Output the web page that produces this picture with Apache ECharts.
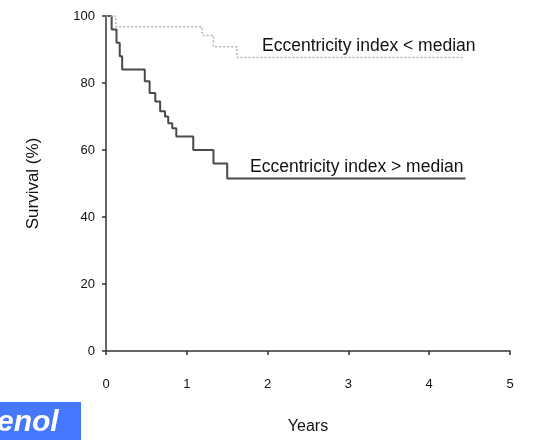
<!DOCTYPE html>
<html>
<head>
<meta charset="utf-8">
<script src="https://cdn.jsdelivr.net/npm/echarts@6/dist/echarts.min.js"></script>
<style>
  html, body { margin: 0; padding: 0; background: #fff; }
  #chart { width: 535px; height: 440px; }
</style>
</head>
<body>
<div id="chart"></div>
<script>
// Kaplan-Meier steps (years, survival %)
const lowTimes = [0, 0.07, 0.13, 0.17, 0.2, 0.48, 0.54, 0.61, 0.67, 0.73, 0.77, 0.82, 0.87, 1.08, 1.33, 1.5, 4.45]
const lowSurv = [100, 96, 92, 88, 84, 80.5, 77, 74.5, 71.6, 70, 68, 66.5, 64, 60, 56, 51.5, 51.5]
const highTimes = [0, 0.12, 1.19, 1.33, 1.62, 4.41]
const highSurv = [100, 96.8, 94.2, 90.8, 87.6, 87.6]
const xTicks = [0, 1, 2, 3, 4, 5]
const yTicks = [0, 20, 40, 60, 80, 100]

const pairs = (xs, ys) => xs.map((x, i) => [x, ys[i]])
const font = 'Liberation Sans, Arial, sans-serif'

let chart = echarts.init(document.getElementById('chart'), null, { renderer: 'canvas' })
chart.setOption({
  animation: false,
  backgroundColor: '#fff',
  grid: { left: 106, right: 25, top: 16, bottom: 83 },
  xAxis: {
    type: 'value',
    min: xTicks[0],
    max: xTicks[xTicks.length - 1],
    interval: 1,
    name: 'Years',
    nameLocation: 'middle',
    nameGap: 68,
    nameTextStyle: { fontFamily: font, fontSize: 16, color: '#111' },
    axisLine: { lineStyle: { color: '#333', width: 1.5 } },
    axisTick: { show: true, length: 4, lineStyle: { color: '#333', width: 1.5 } },
    axisLabel: { margin: 27, fontFamily: font, fontSize: 13, color: '#111' },
    splitLine: { show: false }
  },
  yAxis: {
    type: 'value',
    min: yTicks[0],
    max: yTicks[yTicks.length - 1],
    interval: 20,
    name: 'Survival (%)',
    nameLocation: 'middle',
    nameGap: 64,
    nameRotate: 90,
    nameTextStyle: { fontFamily: font, fontSize: 17, color: '#111' },
    axisLine: { show: true, lineStyle: { color: '#333', width: 1.5 } },
    axisTick: { show: true, length: 4, lineStyle: { color: '#333', width: 1.5 } },
    axisLabel: { margin: 11, fontFamily: font, fontSize: 13, color: '#111' },
    splitLine: { show: false }
  },
  series: [
    {
      name: 'Eccentricity index > median',
      type: 'line',
      step: 'end',
      symbol: 'none',
      data: pairs(lowTimes, lowSurv),
      lineStyle: { color: '#4a4a4a', width: 2 }
    },
    {
      name: 'Eccentricity index < median',
      type: 'line',
      step: 'end',
      symbol: 'none',
      data: pairs(highTimes, highSurv),
      lineStyle: { color: '#b0b0b0', width: 1.5, type: [2, 2] }
    }
  ],
  graphic: [
    {
      type: 'text', left: 262, top: 37,
      style: { text: 'Eccentricity index < median', font: '17.5px ' + font, fill: '#111' }
    },
    {
      type: 'text', left: 250, top: 158,
      style: { text: 'Eccentricity index > median', font: '17.5px ' + font, fill: '#111' }
    },
    {
      type: 'rect', left: 0, top: 402,
      shape: { width: 81, height: 40 },
      style: { fill: '#4678ff' }
    },
    {
      type: 'text', x: -3, y: 438,
      style: { text: 'enol', font: 'italic bold 30px ' + font, fill: '#fff', textVerticalAlign: 'bottom' }
    }
  ]
})
</script>
</body>
</html>
